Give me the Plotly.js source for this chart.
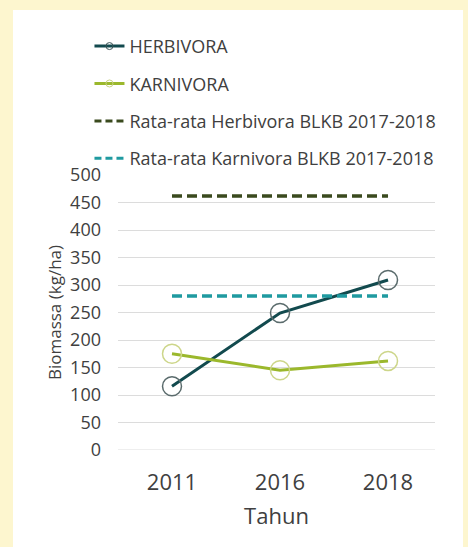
<!DOCTYPE html>
<html>
<head>
<meta charset="utf-8">
<script src="https://cdn.plot.ly/plotly-3.0.1.min.js"></script>
<style>
html,body{margin:0;padding:0;background:#fdf6cf;width:468px;height:547px;overflow:hidden;}
#chart{position:absolute;left:13px;top:10px;width:450px;height:537px;background:#ffffff;}
</style>
</head>
<body>
<div id="chart"></div>
<script>
const years = ["2011", "2016", "2018"];
const herbivora = [116, 249, 309];
const karnivora = [175, 145, 162];
const avgHerbivora = [462, 462, 462];
const avgKarnivora = [280, 280, 280];
const yTicks = [0, 50, 100, 150, 200, 250, 300, 350, 400, 450, 500];

const names = ["HERBIVORA", "KARNIVORA", "Rata-rata Herbivora BLKB 2017-2018", "Rata-rata Karnivora BLKB 2017-2018"];
const cHerb = "#124a4e", cKarn = "#9bb82c", cAvgH = "#3a4a1e", cAvgK = "#1f9aa0";

const traces = [
  {x: years, y: herbivora, mode: "lines+markers", showlegend: false,
   line: {color: cHerb, width: 3},
   marker: {symbol: "circle-open", size: 19, color: "#5a6b6c", line: {width: 1.5}}},
  {x: years, y: karnivora, mode: "lines+markers", showlegend: false,
   line: {color: cKarn, width: 3},
   marker: {symbol: "circle-open", size: 19, color: "#cdd68a", line: {width: 1.5}}},
  {x: years, y: avgHerbivora, mode: "lines", showlegend: false,
   line: {color: cAvgH, width: 3.5, dash: "10px,5px"}},
  {x: years, y: avgKarnivora, mode: "lines", showlegend: false,
   line: {color: cAvgK, width: 3.5, dash: "10px,5px"}},
  // legend entries
  {x: [null], y: [null], name: names[0], legendgroup: "a", mode: "lines+markers",
   line: {color: cHerb, width: 3}, marker: {symbol: "circle-open", size: 7, color: "#3d5557", line: {width: 1}}},
  {x: [null], y: [null], name: names[1], legendgroup: "b", mode: "lines+markers",
   line: {color: cKarn, width: 3}, marker: {symbol: "circle-open", size: 7, color: "#c7d285", line: {width: 1}}},
  {x: [null], y: [null], name: names[2], legendgroup: "c", mode: "lines",
   line: {color: cAvgH, width: 3, dash: "7px,4px"}},
  {x: [null], y: [null], name: names[3], legendgroup: "d", mode: "lines",
   line: {color: cAvgK, width: 3, dash: "7px,4px"}}
];

const layout = {
  width: 450, height: 537,
  margin: {l: 105, r: 28, t: 165, b: 97},
  paper_bgcolor: "#ffffff", plot_bgcolor: "#ffffff",
  font: {family: "'Open Sans', sans-serif", color: "#404040"},
  showlegend: true,
  legend: {x: -0.09, xanchor: "left", y: 1.535, yanchor: "top",
           font: {size: 18, color: "#404040"}, tracegroupgap: 11,
           traceorder: "grouped", bgcolor: "rgba(0,0,0,0)"},
  xaxis: {type: "category", categoryorder: "array", categoryarray: years,
          range: [-0.5, 2.435], showgrid: false, zeroline: false, showline: false,
          ticks: "", tickfont: {size: 22, color: "#404040"}, ticklabelstandoff: 17,
          title: {text: "Tahun", font: {size: 22, color: "#404040"}, standoff: 13}},
  yaxis: {range: [0, 500], tickvals: yTicks, ticktext: yTicks.map(String),
          showgrid: true, gridcolor: "#dcdcdc", gridwidth: 1,
          zeroline: false, showline: false, ticks: "",
          tickfont: {size: 18, color: "#404040"}, ticklabelstandoff: 16,
          title: {text: "Biomassa (kg/ha)", font: {size: 17, color: "#404040"}, standoff: 4}},
  shapes: [{type: "line", xref: "paper", yref: "y", x0: 0, x1: 1, y0: 0, y1: 0,
            line: {color: "#dcdcdc", width: 1}, layer: "below"}]
};

Plotly.newPlot("chart", traces, layout, {displayModeBar: false, staticPlot: true});
</script>
</body>
</html>
